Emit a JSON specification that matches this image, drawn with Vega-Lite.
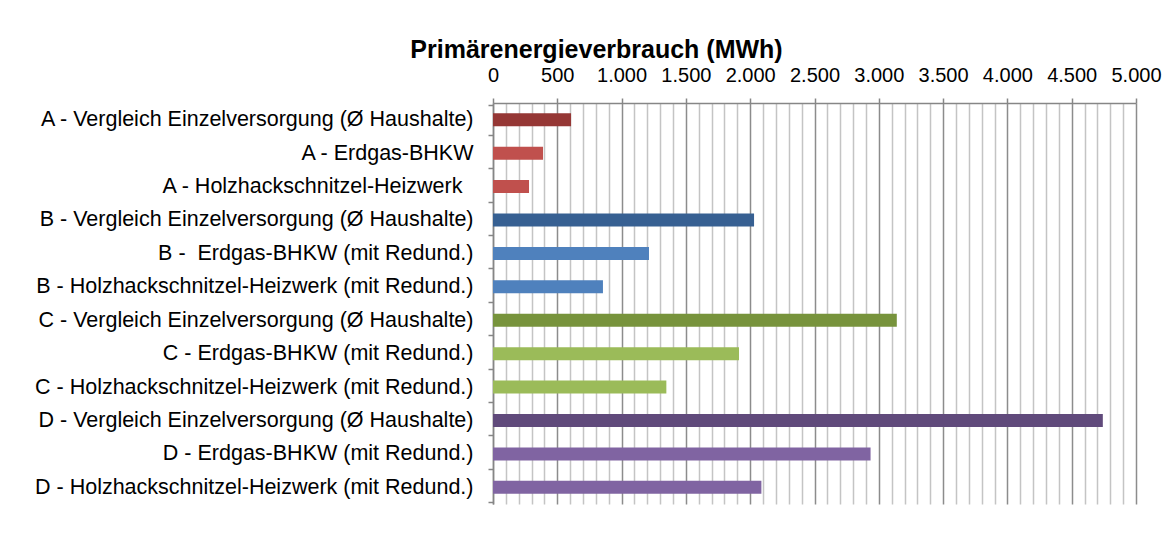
{
  "$schema": "https://vega.github.io/schema/vega-lite/v6.json",
  "autosize": "none",
  "width": 643,
  "height": 401,
  "padding": {"left": 493, "top": 103, "right": 30, "bottom": 36},
  "background": "white",
  "config": {
    "view": {"stroke": null},
    "font": "Liberation Sans"
  },
  "title": {
    "text": "Primärenergieverbrauch (MWh)",
    "font": "Liberation Sans",
    "fontSize": 25,
    "fontWeight": "bold",
    "color": "black",
    "anchor": "middle",
    "frame": "group",
    "dx": -218,
    "offset": 2
  },
  "data": {
    "values": [
      {"Variante": "A - Vergleich Einzelversorgung (Ø Haushalte)", "Serie": "A Vergleich", "MWh": 607},
      {"Variante": "A - Erdgas-BHKW", "Serie": "A Anlage", "MWh": 389},
      {"Variante": "A - Holzhackschnitzel-Heizwerk", "Serie": "A Anlage", "MWh": 280},
      {"Variante": "B - Vergleich Einzelversorgung (Ø Haushalte)", "Serie": "B Vergleich", "MWh": 2030},
      {"Variante": "B -\u00a0 Erdgas-BHKW (mit Redund.)", "Serie": "B Anlage", "MWh": 1213},
      {"Variante": "B - Holzhackschnitzel-Heizwerk (mit Redund.)", "Serie": "B Anlage", "MWh": 855},
      {"Variante": "C - Vergleich Einzelversorgung (Ø Haushalte)", "Serie": "C Vergleich", "MWh": 3140},
      {"Variante": "C - Erdgas-BHKW (mit Redund.)", "Serie": "C Anlage", "MWh": 1913},
      {"Variante": "C - Holzhackschnitzel-Heizwerk (mit Redund.)", "Serie": "C Anlage", "MWh": 1348},
      {"Variante": "D - Vergleich Einzelversorgung (Ø Haushalte)", "Serie": "D Vergleich", "MWh": 4742},
      {"Variante": "D - Erdgas-BHKW (mit Redund.)", "Serie": "D Anlage", "MWh": 2936},
      {"Variante": "D - Holzhackschnitzel-Heizwerk (mit Redund.)", "Serie": "D Anlage", "MWh": 2087}
    ]
  },
  "mark": {"type": "bar", "size": 13},
  "encoding": {
    "y": {
      "field": "Variante",
      "type": "nominal",
      "sort": null,
      "title": null,
      "axis": {
        "labelFont": "Liberation Sans",
        "labelFontSize": 21.5,
        "labelColor": "black",
        "labelLimit": 0,
        "labelPadding": {"condition": {"test": "datum.value === 'A - Holzhackschnitzel-Heizwerk'", "value": 26}, "value": 15},
        "tickBand": "extent",
        "tickSize": 5,
        "tickColor": "#868686",
        "tickWidth": 1.5,
        "domainColor": "#868686",
        "domainWidth": 1.5,
        "grid": false
      }
    },
    "x": {
      "field": "MWh",
      "type": "quantitative",
      "title": null,
      "scale": {"domain": [0, 5000], "nice": false},
      "axis": {
        "orient": "top",
        "values": [0,100,200,300,400,500,600,700,800,900,1000,1100,1200,1300,1400,1500,1600,1700,1800,1900,2000,2100,2200,2300,2400,2500,2600,2700,2800,2900,3000,3100,3200,3300,3400,3500,3600,3700,3800,3900,4000,4100,4200,4300,4400,4500,4600,4700,4800,4900,5000],
        "labelExpr": "datum.value % 500 === 0 ? replace(format(datum.value, ','), ',', '.') : ''",
        "labelOverlap": false,
        "labelFlush": false,
        "labelFont": "Liberation Sans",
        "labelFontSize": 20,
        "labelColor": "black",
        "labelPadding": 13,
        "tickSize": 5,
        "tickWidth": 1.5,
        "tickColor": "#868686",
        "tickOpacity": {"condition": {"test": "datum.value % 500 === 0", "value": 1}, "value": 0},
        "domainColor": "#868686",
        "domainWidth": 1.5,
        "grid": true,
        "gridWidth": 1.5,
        "gridColor": {"condition": {"test": "datum.value % 500 === 0", "value": "#8c8c8c"}, "value": "#c4c4c4"},
        "gridOpacity": 1
      }
    },
    "color": {
      "field": "Serie",
      "type": "nominal",
      "legend": null,
      "scale": {
        "domain": ["A Vergleich", "A Anlage", "B Vergleich", "B Anlage", "C Vergleich", "C Anlage", "D Vergleich", "D Anlage"],
        "range": ["#953735", "#C0504D", "#376092", "#4F81BD", "#77933C", "#9BBB59", "#604A7B", "#8064A2"]
      }
    }
  }
}
